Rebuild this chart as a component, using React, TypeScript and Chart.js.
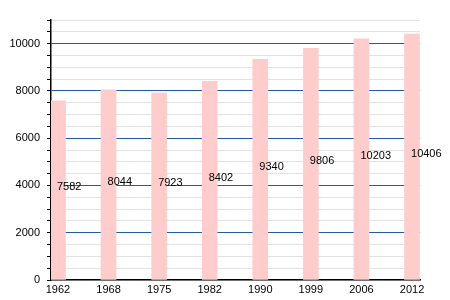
import React, { useEffect, useRef } from "react";
import { Chart, registerables } from "chart.js";

Chart.register(...registerables);

const years = ["1962", "1968", "1975", "1982", "1990", "1999", "2006", "2012"];
const population = [7582, 8044, 7923, 8402, 9340, 9806, 10203, 10406];

const FONT = "'Liberation Sans', Arial, Helvetica, sans-serif";

const valueLabels = {
  id: "valueLabels",
  afterDatasetsDraw(chart: any) {
    const { ctx, scales } = chart;
    const xs = scales.x;
    const ys = scales.y;
    ctx.save();
    ctx.font = `11px ${FONT}`;
    ctx.fillStyle = "#000";
    ctx.textAlign = "left";
    ctx.textBaseline = "alphabetic";
    population.forEach((v, i) => {
      const x = xs.getPixelForValue(i);
      const y = ys.getPixelForValue(v / 2);
      ctx.fillText(String(v), x - 1, y);
    });
    ctx.restore();
  },
};

export default function App() {
  const ref = useRef<HTMLCanvasElement>(null);
  useEffect(() => {
    document.body.style.margin = "0";
    const chart = new Chart(ref.current as HTMLCanvasElement, {
      type: "bar",
      data: {
        datasets: [
          {
            data: population.map((v, i) => ({ x: i, y: v })),
            backgroundColor: "rgb(255, 204, 204)",
            borderWidth: 0,
            barThickness: 15,
          },
        ],
      },
      options: {
        animation: false,
        responsive: false,
        maintainAspectRatio: false,
        layout: { padding: { top: 20, right: 30, left: 0, bottom: 0 } },
        plugins: { legend: { display: false }, tooltip: { enabled: false } },
        scales: {
          x: {
            type: "linear",
            offset: false,
            min: -0.138,
            max: 7.158,
            afterBuildTicks: (scale: any) => {
              scale.ticks = years.map((_, i) => ({ value: i }));
            },
            afterFit: (scale: any) => {
              scale.height = 20;
            },
            grid: { display: false, drawTicks: false },
            border: { display: true, color: "#000", width: 1.5 },
            ticks: {
              padding: 3,
              color: "#000",
              font: { family: FONT, size: 11 },
              maxRotation: 0,
              autoSkip: false,
              callback: (v: any) => years[v] ?? "",
            },
          },
          y: {
            min: 0,
            max: 11000,
            afterBuildTicks: (scale: any) => {
              const t = [];
              for (let v = 0; v <= 11000; v += 500) t.push({ value: v });
              scale.ticks = t;
            },
            afterFit: (scale: any) => {
              scale.width = 51;
            },
            grid: {
              color: (c: any) =>
                c.tick && c.tick.value % 2000 === 0 && c.tick.value > 0 && c.tick.value <= 10000
                  ? "#1f5f9f"
                  : "#e2e2e2",
              lineWidth: 1,
              tickColor: "#000",
              tickLength: 4,
            },
            border: { display: true, color: "#000", width: 1.5 },
            ticks: {
              padding: 7,
              color: "#000",
              font: { family: FONT, size: 11 },
              autoSkip: false,
              callback: (v: any) => (v % 2000 === 0 && v <= 10000 ? String(v) : ""),
            },
          },
        },
      },
      plugins: [valueLabels],
    });
    return () => chart.destroy();
  }, []);
  return (
    <div style={{ position: "fixed", left: 0, top: 0, width: 450, height: 300 }}>
      <canvas ref={ref} width={450} height={300} style={{ width: 450, height: 300 }} />
    </div>
  );
}
